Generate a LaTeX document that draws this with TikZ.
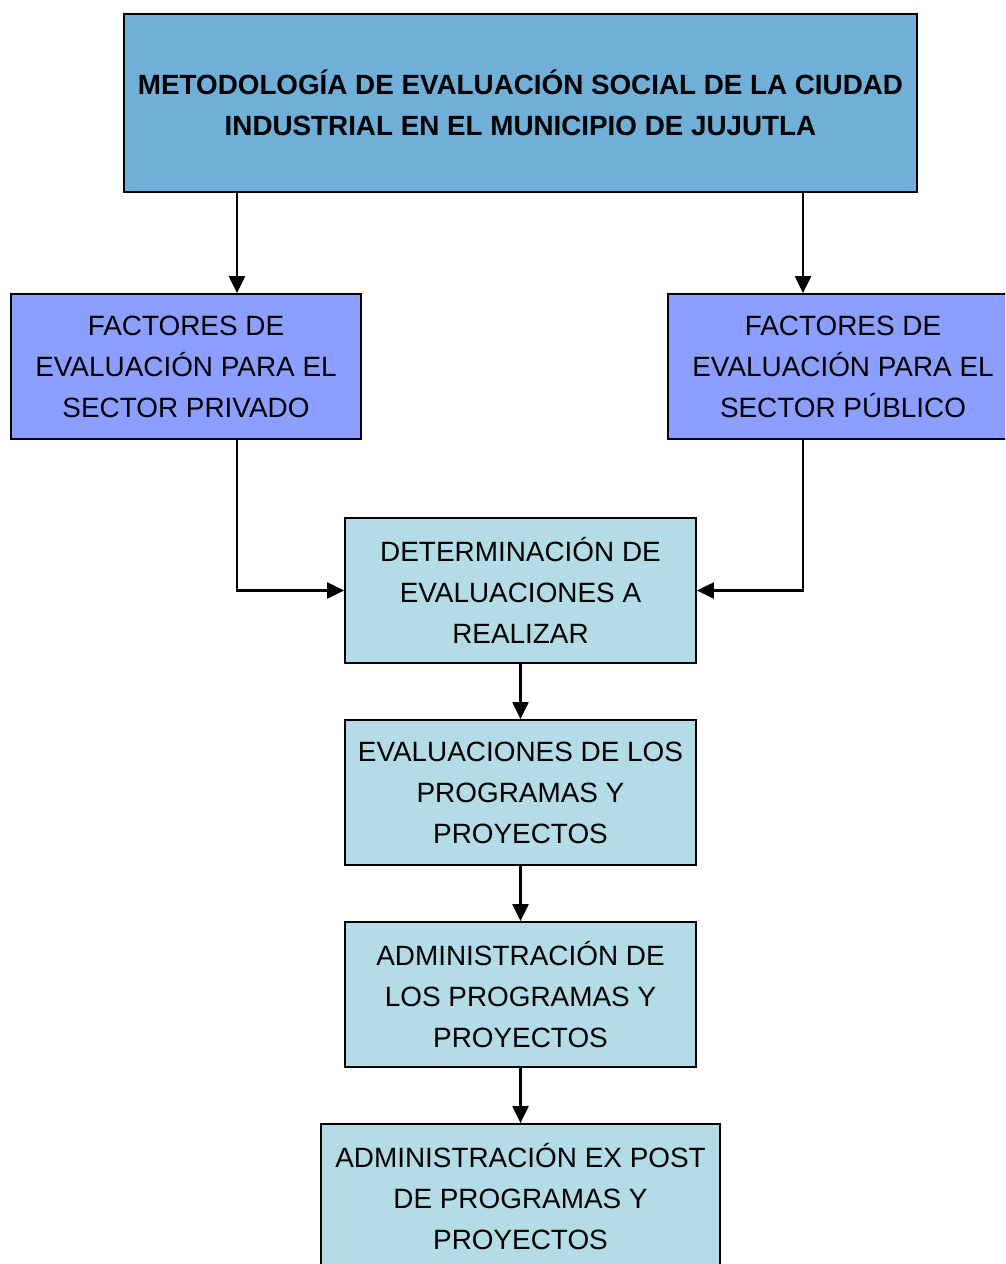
\documentclass[tikz,border=0pt]{standalone}
\usepackage{fontspec}
\setmainfont{Liberation Sans}
\usetikzlibrary{arrows.meta}
\definecolor{titlefill}{RGB}{112,175,216}
\definecolor{sectorfill}{RGB}{140,158,255}
\definecolor{stepfill}{RGB}{180,220,230}
\tikzset{
  boxbase/.style={draw=black, line width=1.8pt, rectangle, align=center, inner sep=0pt,
    font=\fontsize{27.9}{41}\selectfont},
  titlebox/.style={boxbase, fill=titlefill, minimum width=793pt, minimum height=178pt, font=\bfseries\fontsize{27.8}{41}\selectfont},
  sectorbox/.style={boxbase, fill=sectorfill, minimum width=350pt, minimum height=145pt},
  stepbox/.style={boxbase, fill=stepfill, minimum width=351pt, minimum height=145pt},
  arr/.style={draw=black, line width=2.2pt, -{Triangle[width=16pt,length=17pt]}}
}
\begin{document}
\begin{tikzpicture}[x=1pt,y=-1pt]
\useasboundingbox (0,0) rectangle (1005,1264);
\clip (0,0) rectangle (1005,1264);
\node[titlebox] (title) at (520.5,103) {METODOLOGÍA DE EVALUACIÓN SOCIAL DE LA CIUDAD\\INDUSTRIAL EN EL MUNICIPIO DE JUJUTLA};
\node[sectorbox] (private) at (186,366.5) {FACTORES DE\\EVALUACIÓN PARA EL\\SECTOR PRIVADO};
\node[sectorbox] (public) at (843,366.5) {FACTORES DE\\EVALUACIÓN PARA EL\\SECTOR PÚBLICO};
\node[stepbox] (det) at (520.5,590.5) {DETERMINACIÓN DE\\EVALUACIONES A\\REALIZAR};
\node[stepbox] (eval) at (520.5,792.5) {EVALUACIONES DE LOS\\PROGRAMAS Y\\PROYECTOS};
\node[stepbox] (admin) at (520.5,994.5) {ADMINISTRACIÓN DE\\LOS PROGRAMAS Y\\PROYECTOS};
\node[stepbox, minimum width=399pt] (expost) at (520.5,1196.5) {ADMINISTRACIÓN EX POST\\DE PROGRAMAS Y\\PROYECTOS};
\coordinate (xL) at (237,0);
\coordinate (xR) at (803,0);
\draw[arr] (title.south -| xL) -- (private.north -| xL);
\draw[arr] (title.south -| xR) -- (public.north -| xR);
\draw[arr] (private.south -| xL) |- (det.west);
\draw[arr] (public.south -| xR) |- (det.east);
\draw[arr] (det.south) -- (eval.north);
\draw[arr] (eval.south) -- (admin.north);
\draw[arr] (admin.south) -- (expost.north);
\end{tikzpicture}
\end{document}
